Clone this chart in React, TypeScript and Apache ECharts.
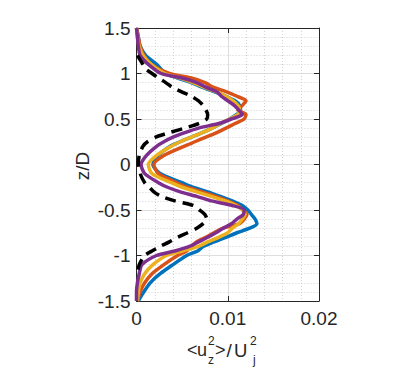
import React, { useEffect, useRef } from "react";
import * as echarts from "echarts";

// z/D levels shared by the four coloured profiles
const zLevels = [
  1.5, 1.4, 1.3, 1.2, 1.1, 1.0, 0.95, 0.9, 0.85, 0.8, 0.75, 0.7, 0.65, 0.6, 0.55, 0.5,
  0.45, 0.4, 0.35, 0.3, 0.25, 0.2, 0.1, 0, -0.1, -0.2, -0.25, -0.3, -0.35, -0.4, -0.45,
  -0.5, -0.55, -0.6, -0.65, -0.7, -0.75, -0.8, -0.85, -0.9, -0.95, -1.0, -1.1, -1.2,
  -1.3, -1.4, -1.5,
];

const blueVals = [
  0.0, 0.0002, 0.0004, 0.001, 0.0022, 0.0032, 0.0045, 0.006, 0.0072, 0.0085, 0.0098,
  0.0108, 0.0113, 0.0114, 0.011, 0.0102, 0.0093, 0.0083, 0.0072, 0.006, 0.0048, 0.0037,
  0.0024, 0.0018, 0.0026, 0.005, 0.0062, 0.0078, 0.0092, 0.0105, 0.0116, 0.0122, 0.0126,
  0.013, 0.0132, 0.0124, 0.011, 0.0098, 0.0085, 0.0073, 0.0067, 0.0055, 0.004, 0.0026,
  0.0015, 0.0008, 0.0002,
];

const orangeVals = [
  0.0, 0.0002, 0.0004, 0.0008, 0.0016, 0.0036, 0.006, 0.0075, 0.0084, 0.0098, 0.011,
  0.012, 0.0116, 0.0111, 0.012, 0.0118, 0.0108, 0.0098, 0.0088, 0.0076, 0.0064, 0.0052,
  0.003, 0.0019, 0.0024, 0.0044, 0.0055, 0.0072, 0.0087, 0.01, 0.0111, 0.0117, 0.0121,
  0.0118, 0.0113, 0.0095, 0.0085, 0.0076, 0.0066, 0.006, 0.0055, 0.0045, 0.003, 0.0017,
  0.0009, 0.0004, 0.0001,
];

const yellowVals = [
  0.0, 0.0001, 0.0003, 0.0007, 0.0016, 0.0031, 0.0048, 0.0062, 0.0074, 0.0087, 0.0098,
  0.0106, 0.0111, 0.0113, 0.0111, 0.0102, 0.0092, 0.0083, 0.0072, 0.006, 0.0048, 0.0038,
  0.0022, 0.0013, 0.0017, 0.0038, 0.005, 0.0066, 0.0082, 0.0097, 0.0109, 0.0116, 0.0119,
  0.0116, 0.0112, 0.0105, 0.01, 0.009, 0.0078, 0.0068, 0.005, 0.0033, 0.0018, 0.0009,
  0.0004, 0.0002, 0.0001,
];

const purpleVals = [
  0.0, 0.0001, 0.0002, 0.0004, 0.0013, 0.0027, 0.005, 0.0066, 0.0076, 0.0088, 0.0093,
  0.01, 0.0107, 0.0112, 0.0116, 0.0104, 0.009, 0.0068, 0.0053, 0.004, 0.003, 0.0022,
  0.0011, 0.0005, 0.0009, 0.0024, 0.0034, 0.0048, 0.0066, 0.0082, 0.0105, 0.0118, 0.0117,
  0.011, 0.0104, 0.0095, 0.0087, 0.0078, 0.0068, 0.0058, 0.0042, 0.0022, 0.0006, 0.0003,
  0.0001, 0.0, 0.0,
];

// black dashed profile has its own z/D range
const zBlack = [
  1.2, 1.15, 1.1, 1.05, 1.0, 0.95, 0.9, 0.85, 0.8, 0.75, 0.7, 0.65, 0.6, 0.55, 0.5, 0.45,
  0.4, 0.35, 0.3, 0.25, 0.2, 0.1, 0, -0.1, -0.2, -0.25, -0.3, -0.35, -0.4, -0.45, -0.5,
  -0.55, -0.6, -0.65, -0.7, -0.75, -0.8, -0.85, -0.9, -0.95, -1.0, -1.1, -1.2,
];
const blackVals = [
  0.0001, 0.0004, 0.0007, 0.001, 0.0017, 0.0024, 0.0032, 0.0039, 0.0049, 0.006, 0.0068,
  0.0073, 0.0076, 0.0078, 0.0077, 0.0068, 0.0053, 0.0036, 0.0021, 0.0012, 0.0007, 0.0003,
  0.0002, 0.0004, 0.0009, 0.0014, 0.0019, 0.0027, 0.0042, 0.0062, 0.0069, 0.0075, 0.0077,
  0.0073, 0.0066, 0.0056, 0.0045, 0.0036, 0.0026, 0.0017, 0.0009, 0.0003, 0.0001,
];

const xTickValues = [0, 0.01, 0.02];
const xTickLabels = ["0", "0.01", "0.02"];
const yTickValues = [-1.5, -1, -0.5, 0, 0.5, 1, 1.5];
const yTickLabels = ["-1.5", "-1", "-0.5", "0", "0.5", "1", "1.5"];

const FONT = "Liberation Sans, Arial, Helvetica, sans-serif";
const AX = "#262626";

export default function App() {
  const ref = useRef<HTMLDivElement>(null);
  useEffect(() => {
    if (!ref.current) return;
    const chart = echarts.init(ref.current, undefined, { renderer: "svg" });
    const pairs = (zs: number[], vs: number[]) => zs.map((z, i) => [vs[i], z]);
    const labelX = (v: number) => {
      const i = xTickValues.findIndex((t) => Math.abs(t - v) < 1e-9);
      return i >= 0 ? xTickLabels[i] : "";
    };
    const labelY = (v: number) => {
      const i = yTickValues.findIndex((t) => Math.abs(t - v) < 1e-9);
      return i >= 0 ? yTickLabels[i] : "";
    };
    const boxAxis = {
      axisLine: { show: true, onZero: false, lineStyle: { color: AX, width: 1 } },
      axisTick: { show: true, inside: true, length: 5, lineStyle: { color: AX, width: 1 } },
    };
    const lineSeries = (name: string, zs: number[], vs: number[], color: string, dashed = false) => ({
      type: "line",
      name,
      data: pairs(zs, vs),
      xAxisIndex: 0,
      yAxisIndex: 0,
      symbol: "none",
      smooth: 0.25,
      lineStyle: { color, width: 3.5, type: dashed ? [11, 7] : "solid", cap: "butt", join: "round" },
      z: 3,
    });
    const t = (text: string, x: number, y: number, size: number) => ({
      type: "text",
      x,
      y,
      style: { text, font: `${size}px ${FONT}`, fill: AX, align: "left", verticalAlign: "middle" },
    });
    chart.setOption({
      animation: false,
      backgroundColor: "#ffffff",
      grid: { left: 136.5, right: 95, top: 28, bottom: 72, containLabel: false },
      xAxis: [
        {
          type: "value",
          min: 0,
          max: 0.02,
          interval: 0.01,
          position: "bottom",
          ...boxAxis,
          axisLabel: { show: true, margin: 8, color: AX, fontSize: 19, fontFamily: FONT, formatter: labelX },
          splitLine: { show: true, lineStyle: { color: "#dedede", width: 1 } },
          minorTick: { show: false, splitNumber: 5 },
          minorSplitLine: { show: true, lineStyle: { color: "#d2d2d2", width: 1, type: [1, 2] } },
        },
        {
          type: "value",
          min: 0,
          max: 0.02,
          interval: 0.01,
          position: "top",
          ...boxAxis,
          axisLabel: { show: false },
          splitLine: { show: false },
        },
      ],
      yAxis: [
        {
          type: "value",
          min: -1.5,
          max: 1.5,
          interval: 0.5,
          position: "left",
          ...boxAxis,
          axisLabel: { show: true, margin: 6, color: AX, fontSize: 19, fontFamily: FONT, formatter: labelY },
          splitLine: { show: true, lineStyle: { color: "#dedede", width: 1 } },
          minorTick: { show: false, splitNumber: 5 },
          minorSplitLine: { show: true, lineStyle: { color: "#d2d2d2", width: 1, type: [1, 2] } },
        },
        {
          type: "value",
          min: -1.5,
          max: 1.5,
          interval: 0.5,
          position: "right",
          ...boxAxis,
          axisLabel: { show: false },
          splitLine: { show: false },
        },
      ],
      series: [
        lineSeries("blue", zLevels, blueVals, "#0072BD"),
        lineSeries("orange", zLevels, orangeVals, "#D95319"),
        lineSeries("yellow", zLevels, yellowVals, "#EDB120"),
        lineSeries("purple", zLevels, purpleVals, "#7E2F8E"),
        lineSeries("black", zBlack, blackVals, "#000000", true),
      ],
      graphic: [
        {
          type: "text",
          x: 82,
          y: 166,
          rotation: Math.PI / 2,
          style: { text: "z/D", font: `19px ${FONT}`, fill: AX, align: "center", verticalAlign: "middle" },
        },
        t("<", 187, 350, 18),
        t("u", 197, 350, 18),
        t("2", 208, 340.5, 12),
        t("z", 208, 359.5, 12),
        t(">", 215, 350, 18),
        t("/", 226.5, 350, 19),
        t("U", 234, 350, 18.5),
        t("2", 250, 340.5, 12),
        t("j", 253, 359.5, 12),
      ],
    });
    return () => chart.dispose();
  }, []);
  return (
    <div
      ref={ref}
      style={{ position: "fixed", left: 0, top: 0, width: 414, height: 373, background: "#fff" }}
    />
  );
}
